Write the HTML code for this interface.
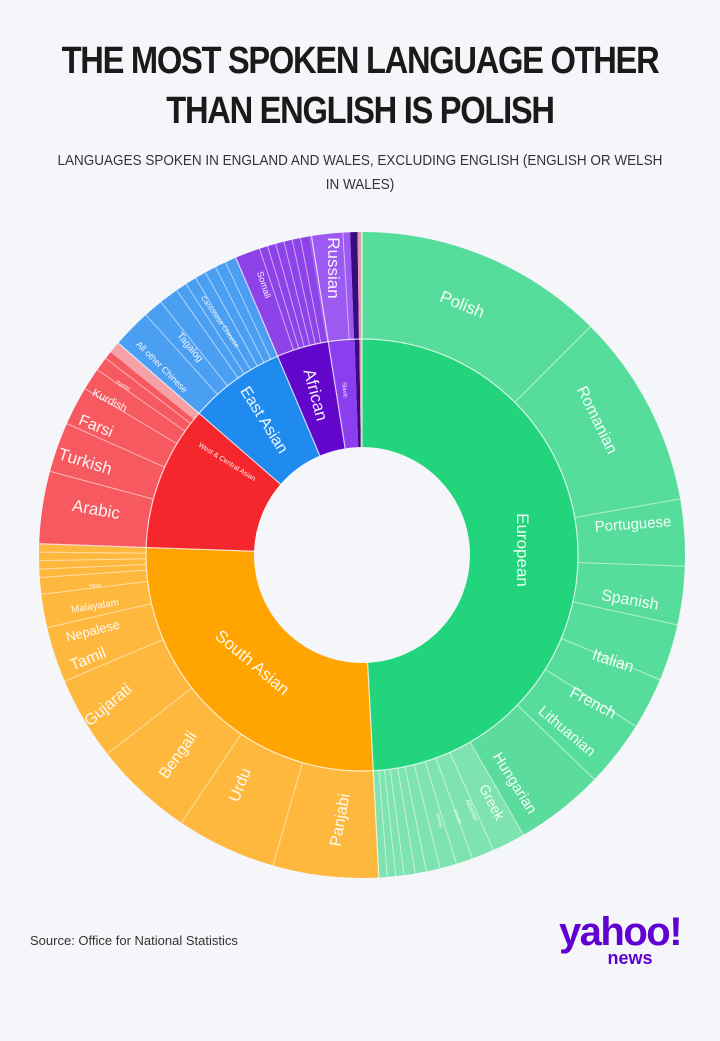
<!DOCTYPE html>
<html><head><meta charset="utf-8"><style>
html,body{margin:0;padding:0;background:#f4f6f9;}
body{width:720px;height:1041px;overflow:hidden;position:relative;font-family:"Liberation Sans",sans-serif;}
.t{position:absolute;left:0;width:720px;text-align:center;font-weight:bold;color:#1a1a1a;font-size:38px;letter-spacing:-1.5px;transform:scaleX(0.86);}
.s{position:absolute;left:0;width:720px;text-align:center;color:#333;font-size:15px;white-space:nowrap;transform:scaleX(0.9);}
</style></head><body>
<div class="t" style="top:40px">THE MOST SPOKEN LANGUAGE OTHER</div>
<div class="t" style="top:90px">THAN ENGLISH IS POLISH</div>
<div class="s" style="top:152px">LANGUAGES SPOKEN IN ENGLAND AND WALES, EXCLUDING ENGLISH (ENGLISH OR WELSH</div>
<div class="s" style="top:176px">IN WALES)</div>
<svg width="720" height="1041" style="position:absolute;left:0;top:0" font-family="Liberation Sans, sans-serif">
<g transform="translate(362,555)">
<g transform="rotate(-90)" fill="none">
<circle r="162" stroke="#22d47c" stroke-width="108" pathLength="360" stroke-dasharray="177 360" stroke-dashoffset="0"/>
<circle r="162" stroke="#ffa400" stroke-width="108" pathLength="360" stroke-dasharray="95 360" stroke-dashoffset="-177"/>
<circle r="162" stroke="#f5262c" stroke-width="108" pathLength="360" stroke-dasharray="39 360" stroke-dashoffset="-272"/>
<circle r="162" stroke="#1f8bef" stroke-width="108" pathLength="360" stroke-dasharray="26 360" stroke-dashoffset="-311"/>
<circle r="162" stroke="#6206cc" stroke-width="108" pathLength="360" stroke-dasharray="14 360" stroke-dashoffset="-337"/>
<circle r="162" stroke="#8a3ef0" stroke-width="108" pathLength="360" stroke-dasharray="7 360" stroke-dashoffset="-351"/>
<circle r="162" stroke="#3a0a80" stroke-width="108" pathLength="360" stroke-dasharray="1.3 360" stroke-dashoffset="-358"/>
<circle r="162" stroke="#e0a0a8" stroke-width="108" pathLength="360" stroke-dasharray="0.7 360" stroke-dashoffset="-359.3"/>
<circle r="269.5" stroke="#57dd9b" stroke-width="107" pathLength="360" stroke-dasharray="134 360" stroke-dashoffset="0"/>
<circle r="269.5" stroke="#7ee3b0" stroke-width="107" pathLength="360" stroke-dasharray="43 360" stroke-dashoffset="-134"/>
<circle r="269.5" stroke="#5bdc9c" stroke-width="107" pathLength="360" stroke-dasharray="16 360" stroke-dashoffset="-134"/>
<circle r="269.5" stroke="#ffb83e" stroke-width="107" pathLength="360" stroke-dasharray="95 360" stroke-dashoffset="-177"/>
<circle r="269.5" stroke="#f65a60" stroke-width="107" pathLength="360" stroke-dasharray="37 360" stroke-dashoffset="-272"/>
<circle r="269.5" stroke="#f7a0a8" stroke-width="107" pathLength="360" stroke-dasharray="2 360" stroke-dashoffset="-309"/>
<circle r="269.5" stroke="#4a9ff2" stroke-width="107" pathLength="360" stroke-dasharray="26 360" stroke-dashoffset="-311"/>
<circle r="269.5" stroke="#8d43e8" stroke-width="107" pathLength="360" stroke-dasharray="13.7 360" stroke-dashoffset="-337"/>
<circle r="269.5" stroke="#9d5af2" stroke-width="107" pathLength="360" stroke-dasharray="7.3 360" stroke-dashoffset="-350.7"/>
<circle r="269.5" stroke="#3a0a80" stroke-width="107" pathLength="360" stroke-dasharray="1.3 360" stroke-dashoffset="-358"/>
<circle r="269.5" stroke="#e0a0a8" stroke-width="107" pathLength="360" stroke-dasharray="0.7 360" stroke-dashoffset="-359.3"/>
</g>
<g stroke="#ffffff" stroke-opacity="0.75" stroke-width="1.2">
<line x1="0" y1="-108" x2="0" y2="-323" transform="rotate(0)"/>
<line x1="0" y1="-108" x2="0" y2="-323" transform="rotate(177)"/>
<line x1="0" y1="-108" x2="0" y2="-323" transform="rotate(272)"/>
<line x1="0" y1="-108" x2="0" y2="-323" transform="rotate(311)"/>
<line x1="0" y1="-108" x2="0" y2="-323" transform="rotate(337)"/>
<line x1="0" y1="-108" x2="0" y2="-323" transform="rotate(351)"/>
<circle r="216" fill="none"/>
</g>
<g stroke="#ffffff" stroke-opacity="0.55" stroke-width="1">
<line y1="-216" y2="-323" transform="rotate(45)"/>
<line y1="-216" y2="-323" transform="rotate(80)"/>
<line y1="-216" y2="-323" transform="rotate(92)"/>
<line y1="-216" y2="-323" transform="rotate(102.5)"/>
<line y1="-216" y2="-323" transform="rotate(112.7)"/>
<line y1="-216" y2="-323" transform="rotate(122)"/>
<line y1="-216" y2="-323" transform="rotate(134)"/>
<line y1="-216" y2="-323" transform="rotate(150)"/>
<line y1="-216" y2="-323" transform="rotate(156)"/>
<line y1="-216" y2="-323" transform="rotate(160)"/>
<line y1="-216" y2="-323" transform="rotate(163)"/>
<line y1="-216" y2="-323" transform="rotate(166)"/>
<line y1="-216" y2="-323" transform="rotate(168.5)"/>
<line y1="-216" y2="-323" transform="rotate(170.5)"/>
<line y1="-216" y2="-323" transform="rotate(172.5)"/>
<line y1="-216" y2="-323" transform="rotate(174)"/>
<line y1="-216" y2="-323" transform="rotate(175.5)"/>
<line y1="-216" y2="-323" transform="rotate(196)"/>
<line y1="-216" y2="-323" transform="rotate(214)"/>
<line y1="-216" y2="-323" transform="rotate(232)"/>
<line y1="-216" y2="-323" transform="rotate(247)"/>
<line y1="-216" y2="-323" transform="rotate(257)"/>
<line y1="-216" y2="-323" transform="rotate(263)"/>
<line y1="-216" y2="-323" transform="rotate(266)"/>
<line y1="-216" y2="-323" transform="rotate(267.5)"/>
<line y1="-216" y2="-323" transform="rotate(269)"/>
<line y1="-216" y2="-323" transform="rotate(270.5)"/>
<line y1="-216" y2="-323" transform="rotate(285)"/>
<line y1="-216" y2="-323" transform="rotate(294)"/>
<line y1="-216" y2="-323" transform="rotate(301)"/>
<line y1="-216" y2="-323" transform="rotate(305)"/>
<line y1="-216" y2="-323" transform="rotate(307.5)"/>
<line y1="-216" y2="-323" transform="rotate(318)"/>
<line y1="-216" y2="-323" transform="rotate(321.5)"/>
<line y1="-216" y2="-323" transform="rotate(325)"/>
<line y1="-216" y2="-323" transform="rotate(327)"/>
<line y1="-216" y2="-323" transform="rotate(329)"/>
<line y1="-216" y2="-323" transform="rotate(331)"/>
<line y1="-216" y2="-323" transform="rotate(333)"/>
<line y1="-216" y2="-323" transform="rotate(335)"/>
<line y1="-216" y2="-323" transform="rotate(341.5)"/>
<line y1="-216" y2="-323" transform="rotate(343)"/>
<line y1="-216" y2="-323" transform="rotate(344.5)"/>
<line y1="-216" y2="-323" transform="rotate(346)"/>
<line y1="-216" y2="-323" transform="rotate(347.5)"/>
<line y1="-216" y2="-323" transform="rotate(349)"/>
<line y1="-216" y2="-323" transform="rotate(356.6)"/>
</g>
</g>
<g fill="#ffffff" fill-opacity="0.92" text-anchor="middle">
<text x="462" y="310" font-size="17" transform="rotate(22 462 305)">Polish</text>
<text x="597" y="425" font-size="16" transform="rotate(64 597 420)">Romanian</text>
<text x="633" y="529" font-size="15" transform="rotate(-4 633 524)">Portuguese</text>
<text x="630" y="605" font-size="16" transform="rotate(10 630 600)">Spanish</text>
<text x="613" y="666" font-size="16" transform="rotate(18 613 661)">Italian</text>
<text x="593" y="708" font-size="16" transform="rotate(28 593 703)">French</text>
<text x="567" y="736" font-size="15" transform="rotate(40 567 731)">Lithuanian</text>
<text x="515" y="788" font-size="15" transform="rotate(58 515 783)">Hungarian</text>
<text x="492" y="807" font-size="14" transform="rotate(62 492 802)">Greek</text>
<text x="472" y="812" font-size="6" transform="rotate(66 472 810)">Albanian</text>
<text x="458" y="818" font-size="5" transform="rotate(70 458 816)">Slovak</text>
<text x="440" y="822" font-size="5" transform="rotate(74 440 820)">Somali</text>
<text x="522" y="555" font-size="17" transform="rotate(90 522 550)">European</text>
<text x="252" y="668" font-size="17" transform="rotate(40 252 663)">South Asian</text>
<text x="340" y="825" font-size="16" transform="rotate(-80 340 820)">Panjabi</text>
<text x="240" y="790" font-size="16" transform="rotate(-68 240 785)">Urdu</text>
<text x="178" y="760" font-size="16" transform="rotate(-55 178 755)">Bengali</text>
<text x="108" y="710" font-size="16" transform="rotate(-40 108 705)">Gujarati</text>
<text x="88" y="664" font-size="16" transform="rotate(-22 88 659)">Tamil</text>
<text x="93" y="635" font-size="13" transform="rotate(-14 93 631)">Nepalese</text>
<text x="95" y="609" font-size="10" transform="rotate(-9 95 606)">Malayalam</text>
<text x="95" y="587" font-size="5" transform="rotate(-5 95 586)">Hindi</text>
<text x="96" y="515" font-size="17" transform="rotate(10 96 510)">Arabic</text>
<text x="85" y="467" font-size="17" transform="rotate(17 85 462)">Turkish</text>
<text x="96" y="431" font-size="16" transform="rotate(22 96 426)">Farsi</text>
<text x="110" y="404" font-size="11" transform="rotate(27 110 400)">Kurdish</text>
<text x="123" y="387" font-size="5" transform="rotate(30 123 386)">Pashto</text>
<text x="227" y="464" font-size="7" transform="rotate(32 227 462)">West &amp; Central Asian</text>
<text x="264" y="425" font-size="16" transform="rotate(58 264 420)">East Asian</text>
<text x="162" y="370" font-size="9" transform="rotate(45 162 367)">All other Chinese</text>
<text x="190" y="350" font-size="10" transform="rotate(50 190 347)">Tagalog</text>
<text x="220" y="324" font-size="7" transform="rotate(55 220 322)">Cantonese Chinese</text>
<text x="263" y="287" font-size="9" transform="rotate(72 263 285)">Somali</text>
<text x="333" y="273" font-size="17" transform="rotate(90 333 268)">Russian</text>
<text x="315" y="400" font-size="17" transform="rotate(75 315 395)">African</text>
<text x="345" y="392" font-size="6" transform="rotate(85 345 390)">Slavic</text>
</g>
<text x="30" y="945" font-size="13" fill="#333">Source: Office for National Statistics</text>
<text x="620" y="945" font-size="40" font-weight="bold" fill="#6001d2" text-anchor="middle" letter-spacing="-1.5">yahoo!</text>
<text x="630" y="964" font-size="18" font-weight="bold" fill="#6001d2" text-anchor="middle">news</text>
</svg>
</body></html>
